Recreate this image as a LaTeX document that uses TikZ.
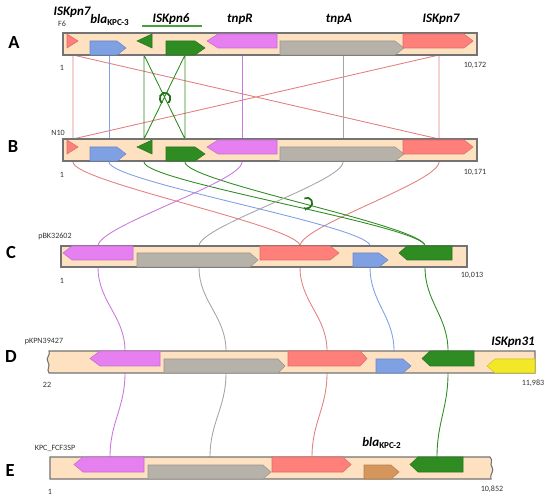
\documentclass[tikz,border=0pt]{standalone}
\usepackage{fontspec}
\setmainfont{Carlito}
\usetikzlibrary{arrows.meta}

\definecolor{peach}{RGB}{253,225,193}
\definecolor{isred}{RGB}{255,128,122}
\definecolor{kpcblue}{RGB}{128,160,228}
\definecolor{isgreen}{RGB}{46,140,34}
\definecolor{tnpr}{RGB}{230,128,240}
\definecolor{tnpa}{RGB}{182,178,170}
\definecolor{isyellow}{RGB}{242,232,40}
\definecolor{kpctan}{RGB}{212,150,92}
\definecolor{lred}{RGB}{228,128,128}
\definecolor{lmag}{RGB}{200,120,222}
\definecolor{lgray}{RGB}{165,165,165}

% right / left gene arrows: start, head base, tip, top, bottom, colour
\newcommand{\gright}[6]{\filldraw[fill=#6,draw=#6!85!black,line width=.3pt]
  (#1,#4) -- (#2,#4) -- (#3,{(#4+#5)/2}) -- (#2,#5) -- (#1,#5) -- cycle;}
\newcommand{\gleft}[6]{\filldraw[fill=#6,draw=#6!85!black,line width=.3pt]
  (#1,{(#4+#5)/2}) -- (#2,#4) -- (#3,#4) -- (#3,#5) -- (#2,#5) -- cycle;}

\begin{document}
\begin{tikzpicture}[x=0.02cm,y=-0.02cm,>=Stealth,
  bar/.style={fill=peach,draw=black!55,line width=.6pt},
  conn/.style={line width=.5pt},
  trk/.style={font=\bfseries\fontsize{10.5}{12}\selectfont},
  gname/.style={font=\bfseries\itshape\fontsize{7.4}{8}\selectfont},
  small/.style={font=\fontsize{4.6}{5}\selectfont,text=black!80}]
  \useasboundingbox (0,0) rectangle (550,502);

  \foreach \n/\x in {is1/73,kpc/109,g1/144,g2/185,r/242,a/343,is2/439}{
    \coordinate (Abot-\n) at (\x,55);
    \coordinate (Btop-\n) at (\x,139);
    \coordinate (Bbot-\n) at (\x,162);}
  \foreach \n/\x/\y/\z in {r/98/125/110,a/199/226/210,is/300/327/312,kpc/370/394/0,g/425/448/437}{
    \coordinate (Ctop-\n) at (\x,246);
    \coordinate (Cbot-\n) at (\x,267);
    \coordinate (Dtop-\n) at (\y,351);
    \coordinate (Dbot-\n) at (\y,373);
    \coordinate (Etop-\n) at (\z,457);}

  \draw[conn,lred] (Abot-is1) -- (Btop-is1) (Abot-is1) -- (Btop-is2)
    (Abot-is2) -- (Btop-is1) (Abot-is2) -- (Btop-is2);
  \draw[conn,kpcblue] (Abot-kpc) -- (Btop-kpc);
  \draw[conn,isgreen] (Abot-g1) -- (Btop-g1) (Abot-g2) -- (Btop-g2)
    (Abot-g1) -- (Btop-g2) (Abot-g2) -- (Btop-g1);
  \draw[conn,lmag] (Abot-r) -- (Btop-r);
  \draw[conn,lgray] (Abot-a) -- (Btop-a);
  \draw[isgreen!80!black,line width=1pt,{Stealth[length=2pt]}-{Stealth[length=2pt]}]
    (165,98) ++(-70:3pt) arc[start angle=-70,end angle=250,radius=3pt];

  \draw[conn,lred] (Bbot-is1) .. controls +(0,20) and +(0,-20) .. (Ctop-is);
  \draw[conn,lred] (Bbot-is2) .. controls +(0,20) and +(0,-20) .. (Ctop-is);
  \draw[conn,kpcblue] (Bbot-kpc) .. controls +(0,20) and +(0,-20) .. (Ctop-kpc);
  \draw[conn,isgreen] (Bbot-g1) .. controls +(0,20) and +(0,-20) .. (Ctop-g);
  \draw[conn,isgreen] (Bbot-g2) .. controls +(0,20) and +(0,-20) .. (Ctop-g);
  \draw[conn,lmag] (Bbot-r) .. controls +(0,20) and +(0,-20) .. (Ctop-r);
  \draw[conn,lgray] (Bbot-a) .. controls +(0,20) and +(0,-20) .. (Ctop-a);
  \draw[isgreen!80!black,line width=1pt,-{Stealth[length=2.5pt]}]
    (307,203) ++(120:3pt) arc[start angle=120,end angle=-130,radius=3pt];

  \foreach \n/\c in {r/lmag,a/lgray,is/lred,kpc/kpcblue,g/isgreen}
    \draw[conn,\c] (Cbot-\n) .. controls +(0,35) and +(0,-35) .. (Dtop-\n);
  \foreach \n/\c in {r/lmag,a/lgray,is/lred,g/isgreen}
    \draw[conn,\c] (Dbot-\n) .. controls +(0,35) and +(0,-35) .. (Etop-\n);

  \foreach \dy in {0,106}{
    \begin{scope}[yshift=-\dy*0.02cm]
      \draw[bar] (63,33) rectangle (477,55);
      \gright{67}{67}{78}{34}{48}{isred}
      \gright{90}{117}{126}{41}{55}{kpcblue}
      \gleft{137}{152}{152}{34}{48}{isgreen}
      \gright{166}{195}{205}{41}{55}{isgreen}
      \gleft{207}{218}{277}{34}{48}{tnpr}
      \gright{280}{395}{404}{41}{55}{tnpa}
      \gright{403}{464}{473}{34}{48}{isred}
    \end{scope}}

  \draw[bar] (61,246) rectangle (467,267);
  \gleft{63}{72}{133}{246}{260}{tnpr}
  \gright{137}{250}{258}{253}{267}{tnpa}
  \gright{260}{330}{339}{246}{260}{isred}
  \gright{353}{379}{388}{253}{267}{kpcblue}
  \gleft{399}{407}{452}{246}{260}{isgreen}

  \draw[bar] (49,351) -- (535,351) -- (535,373) -- (49,373)
    .. controls (46,369) and (51,366) .. (48,362)
    .. controls (45,358) and (51,355) .. cycle;
  \gleft{90}{100}{160}{351}{366}{tnpr}
  \gright{164}{278}{285}{359}{373}{tnpa}
  \gright{288}{360}{367}{351}{366}{isred}
  \gright{376}{403}{411}{359}{373}{kpcblue}
  \gleft{422}{430}{474}{351}{366}{isgreen}
  \gleft{487}{495}{535}{359}{373}{isyellow}

  \draw[bar] (50,457) -- (490,457)
    .. controls (494,461) and (489,464) .. (492,467)
    .. controls (495,471) and (489,475) .. (491,479) -- (50,479) -- cycle;
  \gleft{74}{83}{144}{457}{472}{tnpr}
  \gright{148}{263}{271}{465}{479}{tnpa}
  \gright{272}{343}{351}{457}{472}{isred}
  \gright{364}{391}{399}{465}{479}{kpctan}
  \gleft{410}{418}{463}{457}{472}{isgreen}

  \node[trk] (tA) at (14,43) {A};
  \node[trk] (tB) at (13,147) {B};
  \node[trk] (tC) at (11,253) {C};
  \node[trk] (tD) at (11,357) {D};
  \node[trk] (tE) at (10,471) {E};

  \node[gname] (nIS7a) at (72,12) {ISKpn7};
  \node[gname] (nKPC3) at (110,20) {bla\textsubscript{\upshape KPC-3}};
  \node[gname] (nIS6) at (171,19) {ISKpn6};
  \draw[isgreen!85!white,line width=.7pt] (142,26) -- (202,26);
  \node[gname] (nR) at (240,19) {tnpR};
  \node[gname] (nA) at (339,19) {tnpA};
  \node[gname] (nIS7b) at (441,19) {ISKpn7};
  \node[gname] (nIS31) at (513,342) {ISKpn31};
  \node[gname] (nKPC2) at (382,443) {bla\textsubscript{\upshape KPC-2}};

  \node[small] (sF6) at (62,24) {F6};
  \node[small] (sN10) at (58,133) {N10};
  \node[small] (sC) at (55,236) {pBK32602};
  \node[small] (sD) at (44,342) {pKPN39427};
  \node[small] (sE) at (55,448) {KPC\_FCF3SP};
  \node[small] (sA1) at (62,68) {1};
  \node[small] (sB1) at (62,175) {1};
  \node[small] (sC1) at (62,281) {1};
  \node[small] (sD1) at (47,385) {22};
  \node[small] (sE1) at (50,492) {1};
  \node[small] (sA2) at (475,65) {10,172};
  \node[small] (sB2) at (475,172) {10,171};
  \node[small] (sC2) at (472,275) {10,013};
  \node[small] (sD2) at (533,383) {11,983};
  \node[small] (sE2) at (492,489) {10,852};
\end{tikzpicture}
\end{document}
